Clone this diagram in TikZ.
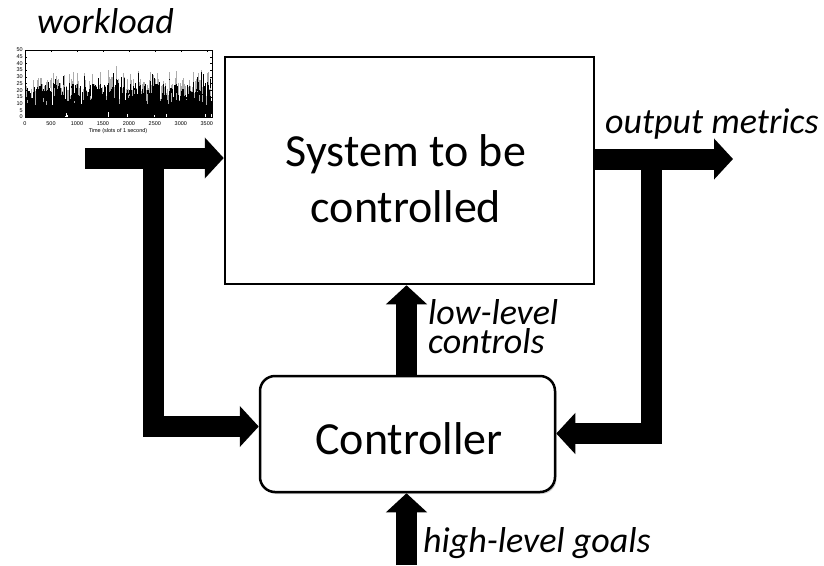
\documentclass[tikz,border=0pt]{standalone}
\usepackage{fontspec}
\setmainfont{Carlito}
\newfontfamily\plotfont{Liberation Sans}
\usetikzlibrary{arrows.meta,shadows}
\begin{document}
\begin{tikzpicture}[x=1pt,y=-1pt,
  fat/.style={line width=21pt, line join=miter, -{Triangle[length=19pt,width=40pt]}},
  boxline/.style={draw=black, line width=2.5pt},
  big/.style={font=\fontsize{46}{56}\selectfont, inner sep=0pt, align=center},
  lbl/.style={font=\fontsize{36}{29}\selectfont\itshape, inner sep=0pt, align=left},
  ticklbl/.style={font=\plotfont\fontsize{5.5}{6}\selectfont, inner sep=0pt}]
\useasboundingbox (0,0) rectangle (824,565);

% ---- workload plot ----
\pgfmathsetseed{11}
\foreach \i in {0,...,359}{
  \pgfmathsetmacro\px{25.5+\i*(186/360)}
  \pgfmathsetmacro\pv{9+17*rnd+(rnd>0.85)*13*rnd}
  \pgfmathsetmacro\pg{min(\pv+10*rnd*(rnd>0.35),41)}
  \pgfmathsetmacro\pl{(rnd<0.3)*4*rnd}
  \draw[gray!65, line width=0.5pt] (\px,117-\pv*1.34) -- (\px,117-\pg*1.34);
  \draw[black, line width=0.6pt] (\px,117-\pl*1.34) -- (\px,117-\pv*1.34);
}
\draw[line width=0.4pt] (25,50) rectangle (212,117);
\foreach \k in {0,...,10}{
  \pgfmathsetmacro\yy{117-\k*6.7}
  \pgfmathtruncatemacro\lab{\k*5}
  \draw[line width=0.3pt] (25,\yy) -- (27,\yy) (212,\yy) -- (210,\yy);
  \node[ticklbl, anchor=east] at (23,\yy) {\lab};
}
\foreach \t in {0,500,...,3500}{
  \pgfmathsetmacro\px{25+\t/3600*187}
  \draw[line width=0.3pt] (\px,117) -- (\px,115) (\px,50) -- (\px,52);
  \node[ticklbl] at (\px,124) {\t};
}
\node[ticklbl] (tlab) at (118,131) {Time (slots of 1 second)};

% ---- boxes ----
\node[boxline, minimum width=369pt, minimum height=227pt, inner sep=0pt] (sys) at (409.5,170.5) {};
\node[big, anchor=base] (systxt) at (406,222) {System to be\\controlled};
\node[boxline, rounded corners=15pt, fill=white, minimum width=295pt, minimum height=116pt, inner sep=0pt,
      drop shadow={shadow xshift=1.5pt, shadow yshift=-2pt, opacity=0.35}] (ctrl) at (407.5,434) {};
\node[big, anchor=base] (ctrltxt) at (409,454) {Controller};

% ---- coordinates ----
\coordinate (inA) at (85,158);
\coordinate (lj) at (153.5,158);
\coordinate (lc) at (153.5,426.5);
\coordinate (oe) at (733,159);
\coordinate (oj) at (651.5,159);
\coordinate (rc) at (651.5,433.5);
\coordinate (lx) at (406.5,0);
\coordinate (hb) at (406.5,565);

% ---- fat arrows ----
\draw[fat] (inA) -- (sys.west |- inA);
\draw[fat] (lj) -- (lc) -- (lc -| ctrl.west);
\draw[fat] (sys.east |- oe) -- (oe);
\draw[fat] (oj) -- (rc) -- (rc -| ctrl.east);
\draw[fat] (ctrl.north -| lx) -- (sys.south -| lx);
\draw[fat] (hb) -- (ctrl.south -| hb);

% ---- labels ----
\node[lbl, anchor=base west] (wl) at (37,33) {workload};
\node[lbl, anchor=base west] (om) at (605,133) {output metrics};
\node[lbl, anchor=base west] (ll1) at (428,324) {low-level};
\node[lbl, anchor=base west] (ll2) at (428,353) {controls};
\node[lbl, anchor=base west] (hl) at (423,552) {high-level goals};
\end{tikzpicture}
\end{document}
